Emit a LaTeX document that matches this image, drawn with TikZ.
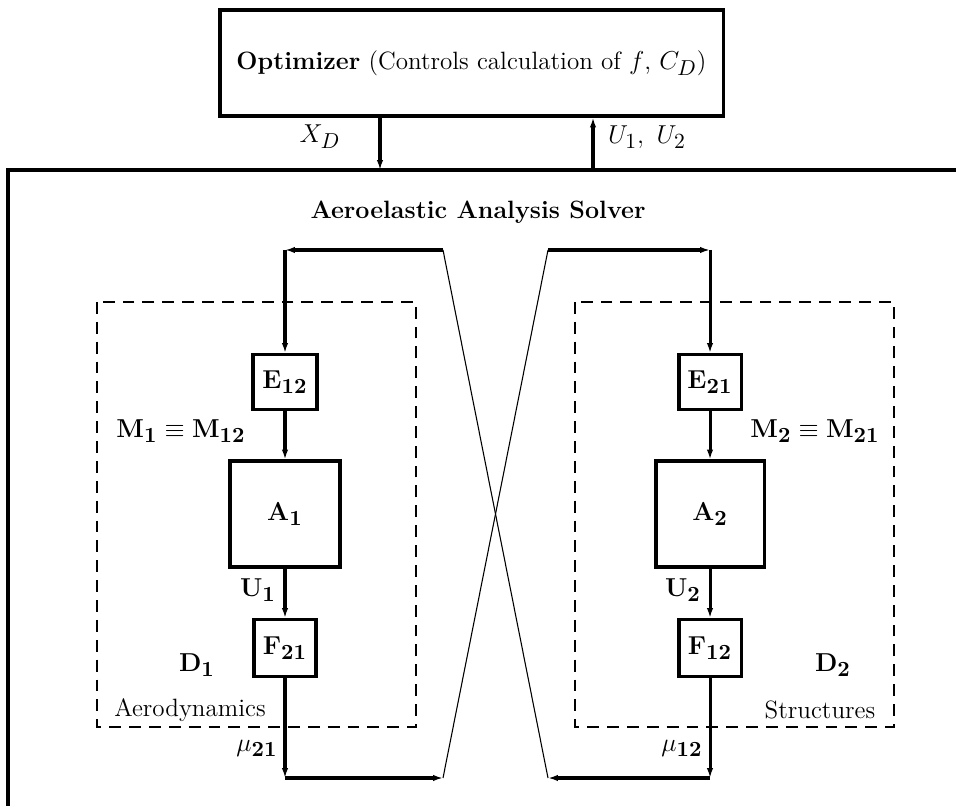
\documentclass[tikz,border=0pt]{standalone}
\usetikzlibrary{arrows.meta}
\DeclareMathSizes{11.6}{11.6}{9.6}{8}
\begin{document}
\fontsize{11.6}{14}\selectfont
\begin{tikzpicture}[x=0.463pt,y=-0.463pt,
  box/.style={draw, line width=1.4pt, inner sep=0pt, align=center},
  flow/.style={line width=1.4pt, -{Latex[length=4.6pt,width=3pt]}},
  plain/.style={line width=1.4pt},
  cross/.style={line width=0.5pt},
  dom/.style={line width=0.9pt, dash pattern=on 5.5pt off 3.7pt},
  lbl/.style={inner sep=0pt}]
\useasboundingbox (0,0) rectangle (956,806);
% boxes
\node[box, minimum width={503*0.463pt}, minimum height={106*0.463pt}] (opt) at (471.5,63)
  {\textbf{Optimizer} (Controls calculation of $f$, $C_D$)};
\node[box, minimum width={64*0.463pt}, minimum height={55*0.463pt}] (E12) at (285,382) {$\mathbf{E_{12}}$};
\node[box, minimum width={110*0.463pt}, minimum height={106*0.463pt}] (A1) at (285,514) {$\mathbf{A_1}$};
\node[box, minimum width={62*0.463pt}, minimum height={57*0.463pt}] (F21) at (285,648) {$\mathbf{F_{21}}$};
\node[box, minimum width={62*0.463pt}, minimum height={55*0.463pt}] (E21) at (710,382) {$\mathbf{E_{21}}$};
\node[box, minimum width={108*0.463pt}, minimum height={106*0.463pt}] (A2) at (710,514) {$\mathbf{A_2}$};
\node[box, minimum width={62*0.463pt}, minimum height={57*0.463pt}] (F12) at (710,648) {$\mathbf{F_{12}}$};
% coordinates
\coordinate (xd) at (380,170);
\coordinate (uu) at (593,170);
\coordinate (tl1) at (285,250);
\coordinate (tr1) at (443,250);
\coordinate (tl2) at (548,250);
\coordinate (tr2) at (710,250);
\coordinate (bl1) at (285,778);
\coordinate (br1) at (443,778);
\coordinate (bl2) at (548,778);
\coordinate (br2) at (710,778);
\coordinate (fa) at (8,806);
\coordinate (fb) at (8,170);
\coordinate (fc) at (956,170);
% frame
\draw[plain] (fa) -- (fb) -- (fc);
\draw[flow] (xd |- opt.south) -- (xd);
\draw[flow] (uu) -- (uu |- opt.south);
% domains
\draw[dom] (97,302) rectangle (416,727);
\draw[dom] (575,302) rectangle (894,727);
% left chain
\draw[flow] (tr1) -- (tl1);
\draw[flow] (tl1) -- (E12.north);
\draw[flow] (E12.south) -- (A1.north);
\draw[flow] (A1.south) -- (F21.north);
\draw[flow] (F21.south) -- (bl1);
\draw[flow] (bl1) -- (br1);
\draw[cross] (br1) -- (tl2);
% right chain
\draw[flow] (tl2) -- (tr2);
\draw[flow] (tr2) -- (E21.north);
\draw[flow] (E21.south) -- (A2.north);
\draw[flow] (A2.south) -- (F12.north);
\draw[flow] (F12.south) -- (br2);
\draw[flow] (br2) -- (bl2);
\draw[cross] (bl2) -- (tr1);
% labels
\node[lbl] (title) at (478,212) {\textbf{Aeroelastic Analysis Solver}};
\node[lbl] (lxd) at (320,137) {$X_D$};
\node[lbl] (lu) at (647,137) {$U_1,\ U_2$};
\node[lbl] (lm1) at (181,431) {$\mathbf{M_1\equiv M_{12}}$};
\node[lbl] (lm2) at (815,431) {$\mathbf{M_2\equiv M_{21}}$};
\node[lbl] (lu1) at (258,590) {$\mathbf{U_1}$};
\node[lbl] (lu2) at (683,590) {$\mathbf{U_2}$};
\node[lbl] (ld1) at (197,665) {$\mathbf{D_1}$};
\node[lbl] (ld2) at (833,665) {$\mathbf{D_2}$};
\node[lbl] (laero) at (190,710) {Aerodynamics};
\node[lbl] (lstru) at (820,710) {Structures};
\node[lbl] (lmu1) at (257,748) {$\mu_{\mathbf{21}}$};
\node[lbl] (lmu2) at (682,748) {$\mu_{\mathbf{12}}$};
\end{tikzpicture}
\end{document}
